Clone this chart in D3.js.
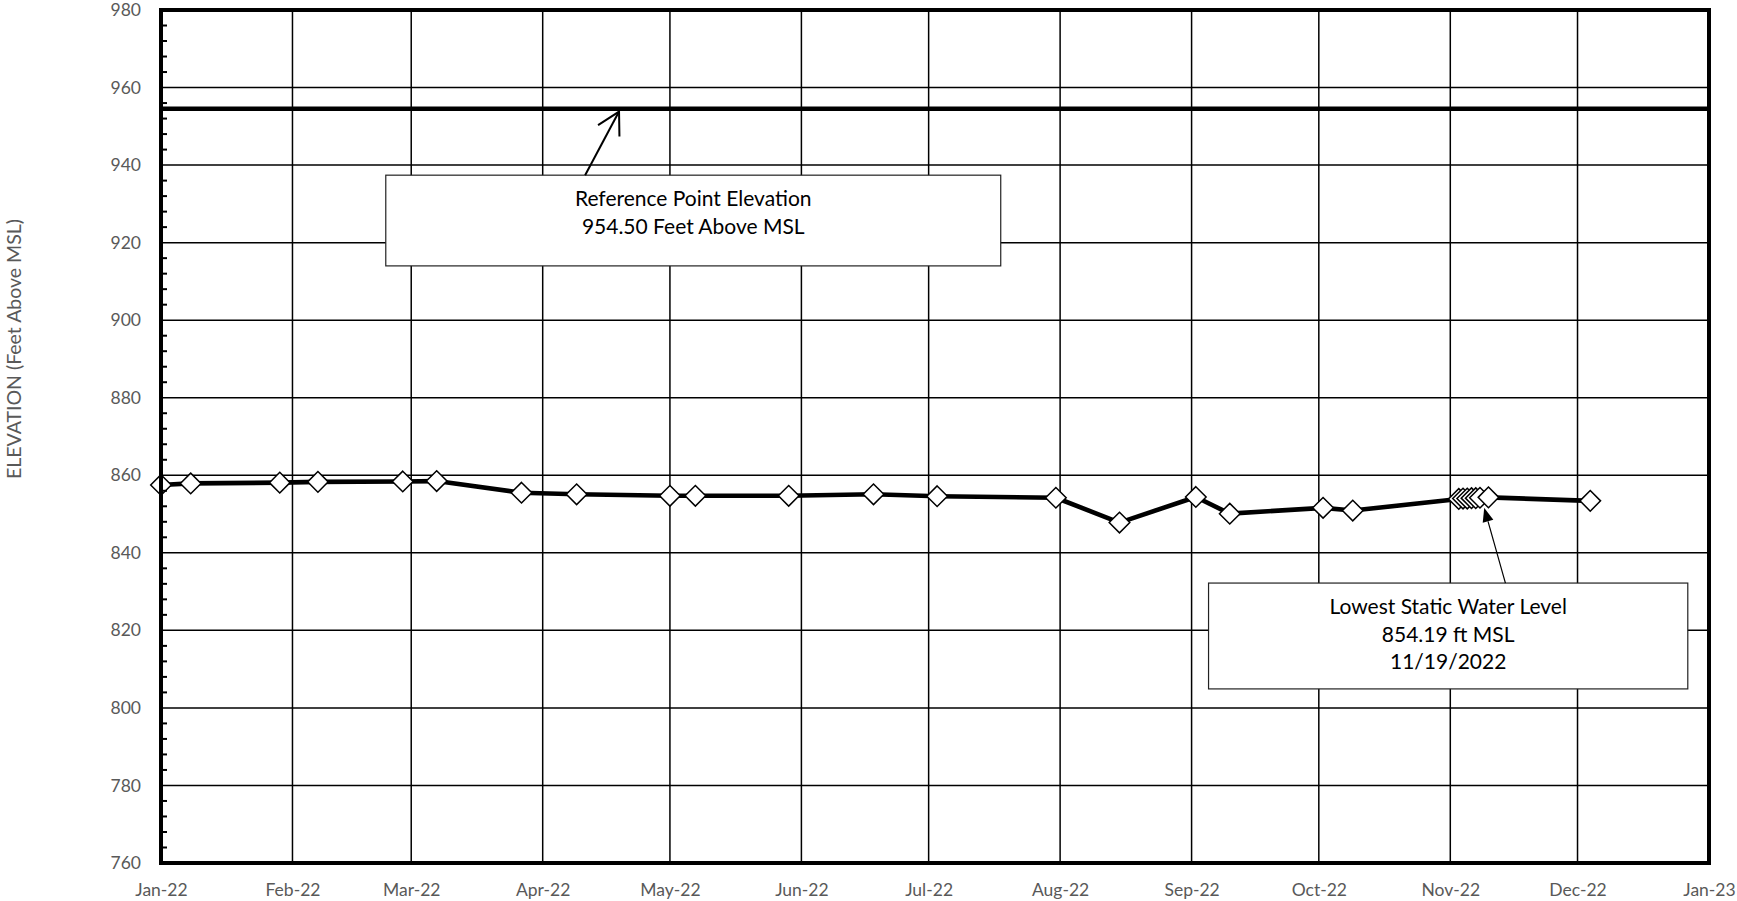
<!DOCTYPE html>
<html>
<head>
<meta charset="utf-8">
<script src="https://cdn.jsdelivr.net/npm/d3@7"></script>
<style>
  html, body { margin: 0; padding: 0; background: #fff; }
  svg { display: block; }
  text { font-family: Lato, "Open Sans", sans-serif; }
</style>
</head>
<body>
<svg id="chart" width="1737" height="901"></svg>
<script>
// ---------- data ----------
const sampleDates = [
  "2022-01-01","2022-01-08","2022-01-29","2022-02-07","2022-02-27","2022-03-07",
  "2022-03-27","2022-04-09","2022-05-01","2022-05-07","2022-05-29","2022-06-18",
  "2022-07-03","2022-07-31","2022-08-15","2022-09-02","2022-09-10","2022-10-02",
  "2022-10-09","2022-11-03","2022-11-04","2022-11-05","2022-11-06","2022-11-07",
  "2022-11-08","2022-11-10","2022-12-04"
];
const elevations = [
  857.5, 857.9, 858.1, 858.3, 858.4, 858.5,
  855.5, 855.1, 854.7, 854.7, 854.7, 855.1,
  854.6, 854.2, 847.8, 854.4, 850.1, 851.6,
  850.9, 853.9, 854.0, 854.0, 854.1, 854.1,
  854.2, 854.3, 853.4
];
const referenceElevation = 954.5;
const yTicks = [760, 780, 800, 820, 840, 860, 880, 900, 920, 940, 960, 980];
const xTickMonths = ["2022-01-01","2022-02-01","2022-03-01","2022-04-01","2022-05-01","2022-06-01",
  "2022-07-01","2022-08-01","2022-09-01","2022-10-01","2022-11-01","2022-12-01","2023-01-01"];
const yAxisTitle = "ELEVATION (Feet Above MSL)";
const refLabel = ["Reference Point Elevation", "954.50 Feet Above MSL"];
const lowLabel = ["Lowest Static Water Level", "854.19 ft MSL", "11/19/2022"];

// annotation anchors in data space
const refBox = { x0: "2022-02-23", x1: "2022-07-18", y0: 937.4, y1: 914.0 };
const refArrow = { from: ["2022-04-11", 937.4], to: ["2022-04-19", 953.8] };
const lowBox = { x0: "2022-09-05", x1: "2022-12-27", y0: 832.2, y1: 804.9 };
const lowArrow = { from: ["2022-11-14", 832.2], to: ["2022-11-09", 851.6] };

// ---------- layout ----------
const parse = d3.utcParse("%Y-%m-%d");
const L = 161, R = 1709, T = 10, B = 863;
const svg = d3.select("#chart");

const x = d3.scaleUtc().domain([parse("2022-01-01"), parse("2023-01-01")]).range([L, R]);
const y = d3.scaleLinear().domain([760, 980]).range([B, T]);

const data = sampleDates.map((d, i) => ({ date: parse(d), value: elevations[i] }));
const monthTicks = xTickMonths.map(parse);

// gridlines
const grid = svg.append("g");
grid.selectAll("line.h").data(yTicks).join("line")
  .attr("x1", L).attr("x2", R)
  .attr("y1", d => y(d)).attr("y2", d => y(d))
  .attr("stroke", "#000").attr("stroke-width", 1.5);
grid.selectAll("line.v").data(monthTicks).join("line")
  .attr("y1", T).attr("y2", B)
  .attr("x1", d => x(d)).attr("x2", d => x(d))
  .attr("stroke", "#000").attr("stroke-width", 1.5);

// reference elevation line
svg.append("line")
  .attr("x1", L).attr("x2", R)
  .attr("y1", y(referenceElevation)).attr("y2", y(referenceElevation))
  .attr("stroke", "#000").attr("stroke-width", 4.5);

// data line
svg.append("path").datum(data)
  .attr("fill", "none").attr("stroke", "#000").attr("stroke-width", 4.6)
  .attr("stroke-linejoin", "round")
  .attr("d", d3.line().x(d => x(d.date)).y(d => y(d.value)));

// markers
const s = 10.3;
svg.append("g").selectAll("path").data(data).join("path")
  .attr("transform", d => `translate(${x(d.date)},${y(d.value)})`)
  .attr("d", `M0,${-s}L${s},0L0,${s}L${-s},0Z`)
  .attr("fill", "#fff").attr("stroke", "#000").attr("stroke-width", 1.5);

// annotation boxes
function box(b, lines, fs, lh) {
  const bx0 = x(parse(b.x0)), bx1 = x(parse(b.x1));
  const by0 = y(b.y0), by1 = y(b.y1);
  svg.append("rect")
    .attr("x", bx0).attr("y", by0).attr("width", bx1 - bx0).attr("height", by1 - by0)
    .attr("fill", "#fff").attr("stroke", "#222").attr("stroke-width", 1.2);
  const cx = (bx0 + bx1) / 2;
  lines.forEach((t, i) => {
    svg.append("text").attr("x", cx).attr("y", by0 + 31 + i * lh)
      .attr("text-anchor", "middle").attr("font-size", fs).attr("fill", "#000").text(t);
  });
}
box(refBox, refLabel, 21, 27.5);
box(lowBox, lowLabel, 21, 27.5);

// reference arrow (open head)
{
  const x1 = x(parse(refArrow.from[0])), y1 = y(refArrow.from[1]);
  const x2 = x(parse(refArrow.to[0])), y2 = y(refArrow.to[1]);
  const ang = Math.atan2(y1 - y2, x1 - x2);
  const hl = 25, ha = 29 * Math.PI / 180;
  const g = svg.append("g").attr("stroke", "#000").attr("stroke-width", 2).attr("fill", "none");
  g.append("line").attr("x1", x1).attr("y1", y1).attr("x2", x2).attr("y2", y2);
  g.append("path").attr("d",
    `M${x2 + hl * Math.cos(ang + ha)},${y2 + hl * Math.sin(ang + ha)}L${x2},${y2}L${x2 + hl * Math.cos(ang - ha)},${y2 + hl * Math.sin(ang - ha)}`);
}
// lowest arrow (filled head)
{
  const x1 = x(parse(lowArrow.from[0])), y1 = y(lowArrow.from[1]);
  const x2 = x(parse(lowArrow.to[0])), y2 = y(lowArrow.to[1]);
  const ang = Math.atan2(y1 - y2, x1 - x2);
  const hl = 14, hw = 5.5;
  const bxp = x2 + hl * Math.cos(ang), byp = y2 + hl * Math.sin(ang);
  svg.append("line").attr("x1", x1).attr("y1", y1).attr("x2", bxp).attr("y2", byp)
    .attr("stroke", "#000").attr("stroke-width", 1.2);
  svg.append("path").attr("d",
    `M${x2},${y2}L${bxp - hw * Math.sin(ang)},${byp + hw * Math.cos(ang)}L${bxp + hw * Math.sin(ang)},${byp - hw * Math.cos(ang)}Z`)
    .attr("fill", "#000");
}

// minor ticks on left axis
const minor = d3.range(760, 981, 4).filter(v => v % 20 !== 0);
svg.append("g").selectAll("line").data(minor).join("line")
  .attr("x1", L).attr("x2", L + 6)
  .attr("y1", d => y(d)).attr("y2", d => y(d))
  .attr("stroke", "#000").attr("stroke-width", 2);

// frame
svg.append("rect").attr("x", L).attr("y", T).attr("width", R - L).attr("height", B - T)
  .attr("fill", "none").attr("stroke", "#000").attr("stroke-width", 4);

// y axis labels
const yAxis = d3.axisLeft(y).tickValues(yTicks).tickSize(0).tickPadding(20).tickFormat(d3.format("d"));
const ya = svg.append("g").attr("transform", `translate(${L},0)`).call(yAxis);
ya.select(".domain").remove();
ya.selectAll("text").attr("font-size", 17.5).attr("fill", "#595959")
  .attr("font-family", "Lato, 'Open Sans', sans-serif");

// x axis labels
const xAxis = d3.axisBottom(x).tickValues(monthTicks).tickSize(0).tickPadding(21)
  .tickFormat(d3.utcFormat("%b-%y"));
const xa = svg.append("g").attr("transform", `translate(0,${B})`).call(xAxis);
xa.select(".domain").remove();
xa.selectAll("text").attr("font-size", 17.5).attr("fill", "#595959")
  .attr("font-family", "Lato, 'Open Sans', sans-serif");

// y axis title
svg.append("text")
  .attr("transform", `translate(21,349) rotate(-90)`)
  .attr("text-anchor", "middle").attr("font-size", 19.5).attr("fill", "#595959")
  .text(yAxisTitle);
</script>
</body>
</html>
